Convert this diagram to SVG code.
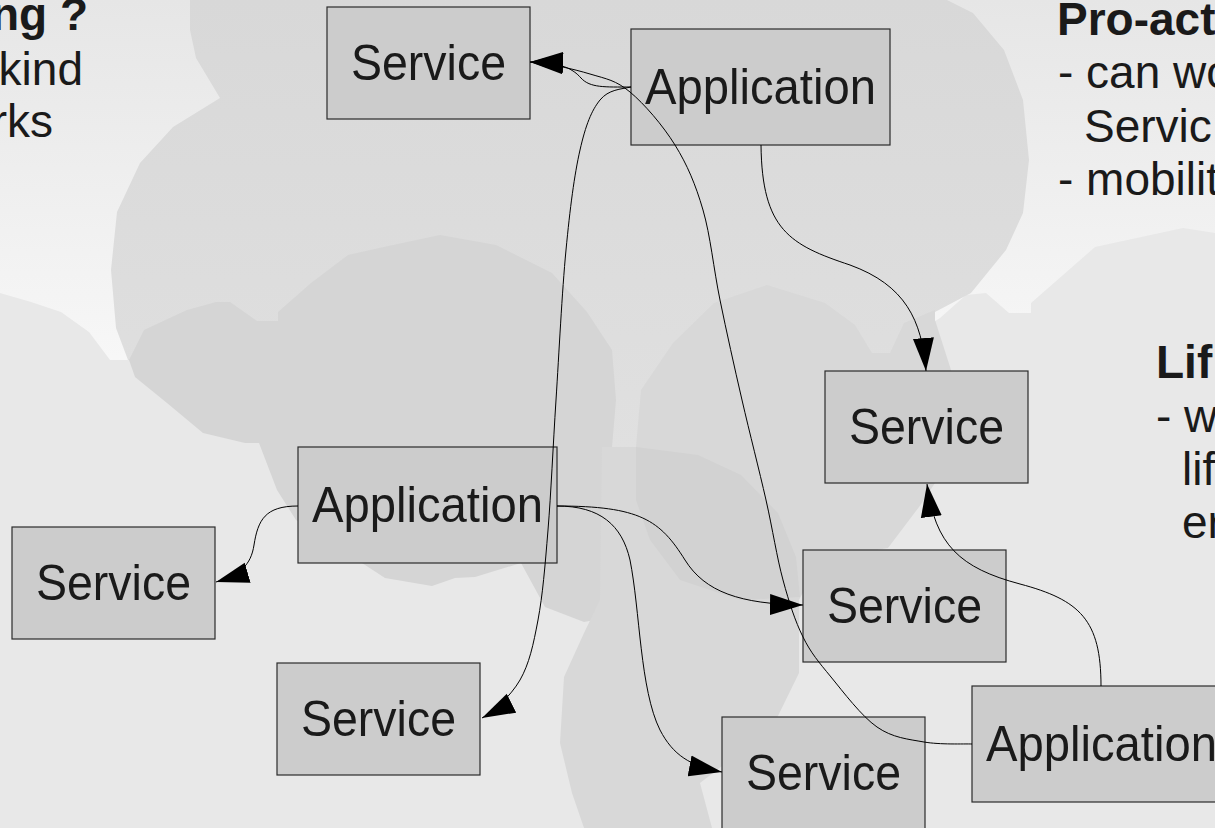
<svg xmlns="http://www.w3.org/2000/svg" width="1215" height="828" viewBox="0 0 1215 828">
  <defs>
    <linearGradient id="bgGrad" x1="0" y1="0" x2="0" y2="400" gradientUnits="userSpaceOnUse">
      <stop offset="0" stop-color="#e6e6e6"/>
      <stop offset="1" stop-color="#f9f9f9"/>
    </linearGradient>
    <linearGradient id="cloudGrad" x1="0" y1="0" x2="0" y2="450" gradientUnits="userSpaceOnUse">
      <stop offset="0" stop-color="#d8d8d8"/>
      <stop offset="1" stop-color="#e0e0e0"/>
    </linearGradient>
    <marker id="arrow" markerUnits="userSpaceOnUse" markerWidth="34" markerHeight="22" viewBox="0 0 34 22" refX="33" refY="11" orient="auto">
      <path d="M0,0.5 L33,11 L0,21.5 z" fill="#000"/>
    </marker>
    <style>
      .box { fill: #cccccc; stroke: #2b2b2b; stroke-width: 1.2; }
      .lbl { font-family: "Liberation Sans", Arial, sans-serif; font-size: 50px; fill: #1a1a1a; text-anchor: middle; }
      .body { font-family: "Liberation Sans", Arial, sans-serif; font-size: 46px; fill: #1a1a1a; }
      .head { font-weight: bold; }
      .conn { fill: none; stroke: #000; stroke-width: 1; marker-end: url(#arrow); }
    </style>
  </defs>

  <!-- backdrop: gradient sky with soft grey cloud blobs -->
  <g id="backdrop">
    <rect x="0" y="0" width="1215" height="828" fill="url(#bgGrad)"/>
    <polygon fill="#e8e8e8" points="0,293 31,302 61,312 89,332 110,360 128,360 400,390 595,330 622,330 641,395 700,345 890,350 940,318 966,295 986,293 1009,313 1031,313 1031,303 1095,247 1183,228 1215,233 1215,828 0,828"/>
    <polygon fill="url(#cloudGrad)" points="190,0 947,0 973,13 1004,50 1023,100 1029,160 1023,213 1006,250 971,293 935,312 910,340 880,380 700,400 640,450 600,450 400,420 128,360 116,328 111,270 117,212 140,163 173,127 220,98 196,58 190,30"/>
    <polygon fill="#d5d5d5" points="129,360 144,330 187,310 216,302 230,302 257,321 278,321 278,312 311,283 348,255 393,245 440,235 496,245 552,273 587,312 612,350 616,400 612,447 610,520 610,617 584,622 545,607 521,563 475,577 455,578 432,586 385,578 296,520 277,490 259,443 245,443 203,433 167,403 135,377"/>
    <polygon fill="#d8d8d8" points="641,390 673,343 714,303 767,285 825,303 855,325 872,353 890,353 904,323 935,310 935,320 951,370 960,430 935,483 919,507 888,548 820,560 799,600 799,673 776,720 730,760 700,783 712,828 584,828 572,793 560,743 564,677 584,633 600,600 602,447 636,447"/>
    <polygon fill="#d2d2d2" points="636,447 698,455 741,475 778,513 796,557 800,597 740,600 680,580 650,540 636,500"/>
  </g>

  <!-- side notes -->
  <g id="notes">
    <text class="body head" x="88" y="30" text-anchor="end">ng ?</text>
    <text class="body" x="83" y="85" text-anchor="end">kind</text>
    <text class="body" x="53" y="137" text-anchor="end">rks</text>
    <text class="body head" x="1057" y="35">Pro-act</text>
    <text class="body" x="1058" y="88">- can wo</text>
    <text class="body" x="1084" y="142">Servic</text>
    <text class="body" x="1058" y="195">- mobilit</text>
    <text class="body head" x="1156" y="378">Lif</text>
    <text class="body" x="1156" y="432">- w</text>
    <text class="body" x="1182" y="485">lif</text>
    <text class="body" x="1182" y="538">er</text>
  </g>

  <!-- nodes -->
  <g id="svc-top">
    <rect class="box" x="327" y="7" width="203" height="112"/>
    <text class="lbl" x="428.5" y="80" textLength="155" lengthAdjust="spacingAndGlyphs">Service</text>
  </g>
  <g id="app-top">
    <rect class="box" x="631" y="29" width="259" height="116"/>
    <text class="lbl" x="760.5" y="104" textLength="231" lengthAdjust="spacingAndGlyphs">Application</text>
  </g>
  <g id="svc-right">
    <rect class="box" x="825" y="371" width="203" height="112"/>
    <text class="lbl" x="926.5" y="444" textLength="155" lengthAdjust="spacingAndGlyphs">Service</text>
  </g>
  <g id="app-mid">
    <rect class="box" x="298" y="447" width="259" height="116"/>
    <text class="lbl" x="427.5" y="522" textLength="231" lengthAdjust="spacingAndGlyphs">Application</text>
  </g>
  <g id="svc-left">
    <rect class="box" x="12" y="527" width="203" height="112"/>
    <text class="lbl" x="113.5" y="599.5" textLength="155" lengthAdjust="spacingAndGlyphs">Service</text>
  </g>
  <g id="svc-low-left">
    <rect class="box" x="277" y="663" width="203" height="112"/>
    <text class="lbl" x="378.5" y="735.5" textLength="155" lengthAdjust="spacingAndGlyphs">Service</text>
  </g>
  <g id="svc-mid">
    <rect class="box" x="803" y="550" width="203" height="112"/>
    <text class="lbl" x="904.5" y="622.5" textLength="155" lengthAdjust="spacingAndGlyphs">Service</text>
  </g>
  <g id="svc-bottom">
    <rect class="box" x="722" y="717" width="203" height="112"/>
    <text class="lbl" x="823.5" y="789.5" textLength="155" lengthAdjust="spacingAndGlyphs">Service</text>
  </g>
  <g id="app-bottom">
    <rect class="box" x="972" y="686" width="259" height="116"/>
    <text class="lbl" x="1101.5" y="761" textLength="231" lengthAdjust="spacingAndGlyphs">Application</text>
  </g>

  <!-- connectors -->
  <g id="connectors">
    <path class="conn" d="M631,87 C605,87 590,88 581,78 C573,69 562,62.5 530,62"/>
    <path class="conn" d="M972,744 C964,743.7 939.8,744.8 924,742 C908.2,739.2 892.5,737.8 877,727 C861.5,716.2 843.3,692 831,677 C818.7,662 811,653.2 803,637 C795,620.8 789.2,602.8 783,580 C776.8,557.2 772.8,530 766,500 C759.2,470 749.7,433.3 742,400 C734.3,366.7 726.5,331.7 720,300 C713.5,268.3 710.5,235.8 703,210 C695.5,184.2 687.2,164.7 675,145 C662.8,125.3 644.2,103.8 630,92 C615.8,80.2 606.7,79 590,74 C573.3,69 548,63 530,62"/>
    <path class="conn" d="M631,87 C620.8,89.2 608.5,89.5 600,100 C591.5,110.5 585.7,125 580,150 C574.3,175 570,208.3 566,250 C562,291.7 559,353.3 556,400 C553,446.7 551,493.3 548,530 C545,566.7 542.7,595 538,620 C533.3,645 529.3,663.7 520,680 C510.7,696.3 492,713 482,718"/>
    <path class="conn" d="M761,145 C762,230 790,245 850,265 C905,285 922,320 926,371"/>
    <path class="conn" d="M557,506 C640,506 660,520 685,560 C705,592 740,604 803,605"/>
    <path class="conn" d="M557,506 C600,506 622,525 630,560 C640,610 640,690 660,730 C673,755 690,766 722,772"/>
    <path class="conn" d="M298,506 C265,506 258,520 254,545 C251,565 240,575 216,582"/>
    <path class="conn" d="M1101,686 C1101,620 1080,600 1020,584 C960,568 935,545 927,484"/>
  </g>
</svg>
